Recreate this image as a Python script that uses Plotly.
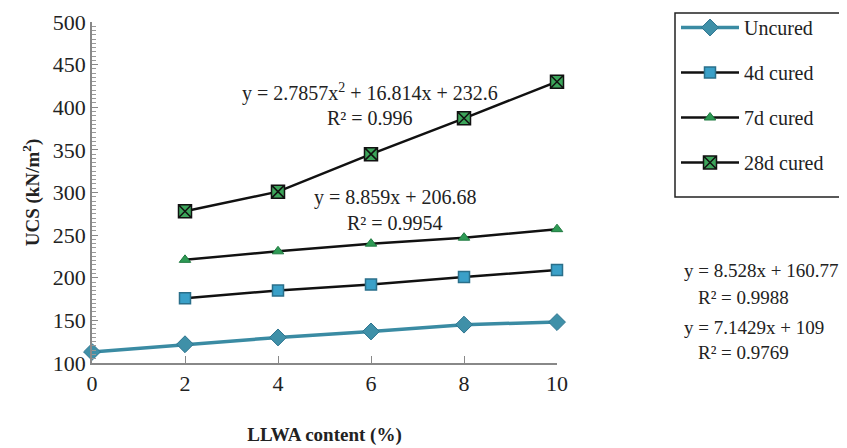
import plotly.graph_objects as go

x_all = [0, 2, 4, 6, 8, 10]
x_cured = [2, 4, 6, 8, 10]
uncured = [113, 122, 130, 137, 145, 148]
cured_4d = [176, 185, 192, 201, 209]
cured_7d = [221, 231, 240, 247, 257]
cured_28d = [278, 301, 345, 387, 430]

FONT = "Liberation Serif, Times New Roman, serif"

fig = go.Figure()
fig.add_trace(go.Scatter(x=x_all, y=uncured, name="Uncured", mode="lines+markers",
                         line=dict(color="#3a8ba3", width=3.5),
                         marker=dict(symbol="diamond", size=13, color="#3f90a8",
                                     line=dict(color="#2f7590", width=1)),
                         cliponaxis=False, legendgroup="a"))
fig.add_trace(go.Scatter(x=x_cured, y=cured_4d, name="4d cured", mode="lines+markers",
                         line=dict(color="#111111", width=2.5),
                         marker=dict(symbol="square", size=11, color="#3aa0c8",
                                     line=dict(color="#2a6f8a", width=1.5)),
                         cliponaxis=False, legendgroup="b"))
fig.add_trace(go.Scatter(x=x_cured, y=cured_7d, name="7d cured", mode="lines+markers",
                         line=dict(color="#111111", width=2.5),
                         marker=dict(symbol="triangle-up", size=10, color="#2e9a55",
                                     line=dict(color="#1f7a40", width=1)),
                         cliponaxis=False, legendgroup="c"))
fig.add_trace(go.Scatter(x=x_cured, y=cured_28d, name="28d cured", mode="lines+markers",
                         line=dict(color="#111111", width=2.5),
                         marker=dict(symbol="square-x", size=13, color="#3ca55a",
                                     line=dict(color="#111111", width=1.5)),
                         cliponaxis=False, legendgroup="d"))

# page has an 8px body margin; figure sized to fit inside the window
OFF = 8
W, H = 847 - OFF, 448 - OFF
PL, PR, PT, PB = 92, 557, 22, 363  # plot area in page pixels
L, T = PL - OFF, PT - OFF
R = W - (PR - OFF)
B = H - (PB - OFF)
pw, ph = PR - PL, PB - PT

def px(xp):
    return (xp - PL) / pw

def py(yp):
    return (PB - yp) / ph

annots = [
    ("y = 2.7857x<sup>2</sup> + 16.814x + 232.6", 370, 92, "center", 20),
    ("R² = 0.996", 370, 118, "center", 20),
    ("y = 8.859x + 206.68", 395, 197, "center", 20),
    ("R² = 0.9954", 395, 223, "center", 20),
    ("y = 8.528x + 160.77", 682, 270, "left", 19),
    ("R² = 0.9988", 696, 297, "left", 19),
    ("y = 7.1429x + 109", 682, 327, "left", 19),
    ("R² = 0.9769", 696, 352, "left", 19),
]
for text, ax_, ay_, anc, fs in annots:
    fig.add_annotation(x=px(ax_), y=py(ay_), xref="paper", yref="paper", text=text,
                       showarrow=False, font=dict(family=FONT, size=fs, color="#222"),
                       xanchor=anc, yanchor="middle")

fig.add_shape(type="rect", xref="paper", yref="paper",
              x0=px(675), x1=px(842), y0=py(13), y1=py(197),
              line=dict(color="#222", width=1.5), fillcolor="rgba(0,0,0,0)")

fig.update_layout(
    width=W, height=H, autosize=False,
    margin=dict(l=L, r=R, t=T, b=B),
    paper_bgcolor="white", plot_bgcolor="white",
    font=dict(family=FONT, size=22, color="#222"),
    showlegend=True,
    legend=dict(xref="container", yref="container",
                x=(676 - OFF) / W, y=1, xanchor="left", yanchor="top",
                font=dict(family=FONT, size=20, color="#222"),
                itemwidth=58,
                tracegroupgap=16, bgcolor="rgba(0,0,0,0)"),
    xaxis=dict(range=[0, 10], tickvals=x_all, ticks="inside", ticklen=7,
               tickcolor="#888", showline=True, linecolor="#888", linewidth=1.5,
               showgrid=False, zeroline=False, automargin=False,
               title=dict(text="<b>LLWA content (%)</b>", font=dict(family=FONT, size=19),
                          standoff=33)),
    yaxis=dict(range=[100, 500], dtick=50, ticks="inside", ticklen=6,
               tickcolor="#888", showline=True, linecolor="#888", linewidth=1.5,
               showgrid=False, zeroline=False, automargin=False,
               minor=dict(dtick=5, ticks="inside", ticklen=4, tickcolor="#999"),
               title=dict(text="<b>UCS (kN/m<sup>2</sup>)</b>", font=dict(family=FONT, size=19),
                          standoff=8)),
)

fig.write_html("out.html")
